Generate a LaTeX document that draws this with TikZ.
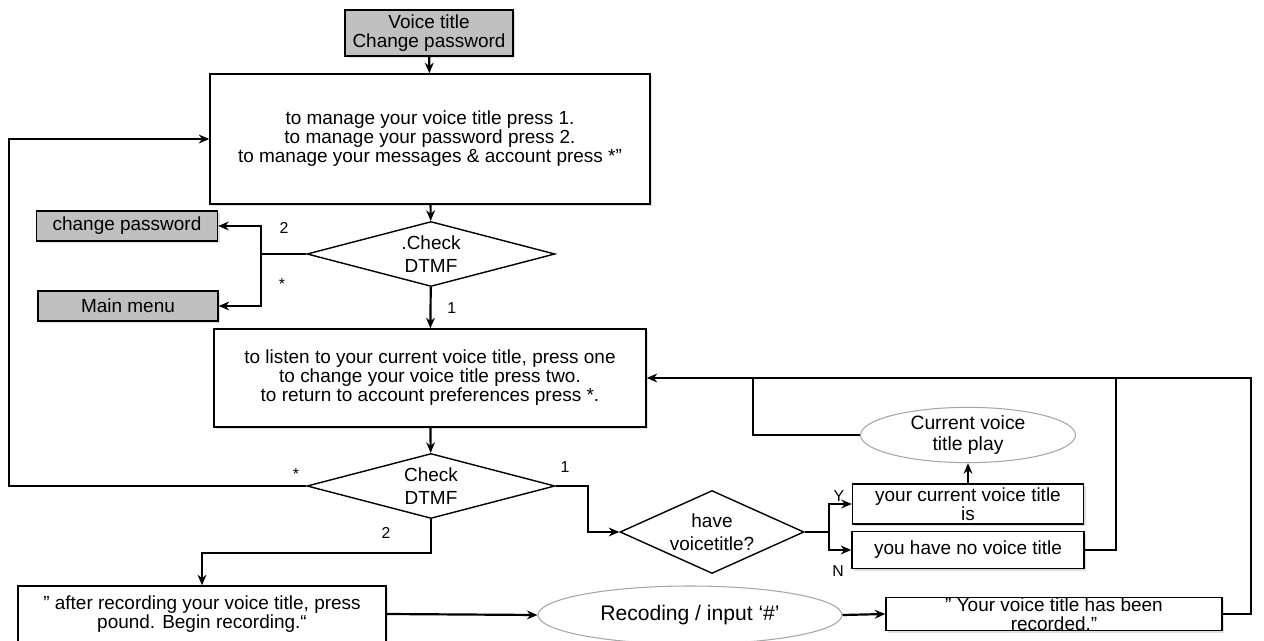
\documentclass[tikz,border=0pt]{standalone}
\usepackage{fontspec}
\setmainfont{Liberation Sans}
\usetikzlibrary{arrows.meta, positioning, shapes.geometric, shadows}
\definecolor{boxgray}{HTML}{C0C0C0}
\definecolor{ellgray}{HTML}{A6A6A6}

\begin{document}
\begin{tikzpicture}[x=0.02cm, y=-0.02cm, >={Stealth[length=6pt, width=5pt]},
  box/.style={rectangle, draw, fill=white, line width=0.8pt, inner sep=0pt, align=center, font=\fontsize{10.8}{10.8}\selectfont, drop shadow={shadow xshift=1.2pt, shadow yshift=-1.2pt, opacity=0.25}},
  graybox/.style={box, fill=boxgray},
  decision/.style={diamond, draw, fill=white, line width=0.8pt, inner sep=0pt, shape aspect=3, align=center, font=\fontsize{10.8}{13}\selectfont},
  play/.style={ellipse, draw=ellgray, fill=white, line width=0.6pt, inner sep=0pt, align=center},
  lbl/.style={inner sep=0pt, font=\fontsize{9}{9}\selectfont},
  flow/.style={->, line width=1.25pt},
  wire/.style={line width=1.25pt}]
\useasboundingbox (0,0) rectangle (1264,641);
% Account preferences menu
\node[graybox, minimum width=3.36cm, minimum height=0.92cm] (vt) at (429,33) {Voice title\\Change password};
\node[box, minimum width=8.8cm, minimum height=2.6cm] (menu1) at (430,139) {to manage your voice title press 1.\\to manage your password press 2.\\to manage your messages \& account press *”};
\node[decision, minimum width=4.96cm, minimum height=1.3cm] (chk1) at (431,254) {.Check\\DTMF};
\node[graybox, minimum width=3.62cm, minimum height=0.6cm] (cpw) at (127,226) {change password};
\node[graybox, minimum width=3.6cm, minimum height=0.6cm] (mmenu) at (128,306) {Main menu};
\coordinate (jn1) at (261,254);
\draw[flow] (vt) -- (menu1);
\draw[flow] (menu1) -- (chk1);
\draw[wire] (chk1.west) -- (jn1);
\draw[flow] (jn1) |- (cpw.east);
\draw[flow] (jn1) |- (mmenu.east);
\node[lbl] (l2a) at (284,228) {2};
\node[lbl] (lsa) at (282,284) {*};
% Voice title menu
\node[box, minimum width=8.64cm, minimum height=1.96cm] (menu2) at (430,378) {to listen to your current voice title, press one\\to change your voice title press two.\\to return to account preferences press *.};
\node[decision, minimum width=4.96cm, minimum height=1.3cm] (chk2) at (431,486) {Check\\DTMF};
\draw[flow] (chk1) -- node[lbl, right=9pt] (l1a) {1} (menu2);
\draw[flow] (menu2) -- (chk2);
\coordinate (lrail) at (9,486);
\draw[flow] (chk2.west) -- (lrail) |- (menu1.west);
\node[lbl] (lsb) at (296,474) {*};
\node[lbl] (l1b) at (565,467) {1};
\node[lbl] (l2b) at (386,533) {2};
% Play branch
\node[decision, minimum width=3.68cm, minimum height=1.66cm, shape aspect=2.2] (have) at (712,532) {have\\voicetitle?};
\node[box, minimum width=4.62cm, minimum height=0.8cm] (yesb) at (968,504) {your current voice title\\is};
\node[box, minimum width=4.64cm, minimum height=0.74cm] (nob) at (968,550) {you have no voice title};
\node[play, minimum width=4.3cm, minimum height=0.92cm, font=\fontsize{11}{12}\selectfont] (cvp) at (968,435) {Current voice\\title play};
\coordinate (jn2) at (588,486);
\coordinate (yn) at (829,532);
\draw[flow] (chk2.east) -- (jn2) |- (have.west);
\draw[wire] (have.east) -- (yn);
\draw[flow] (yn) |- (yesb.west);
\draw[flow] (yn) |- (nob.west);
\node[lbl] (ly) at (839,496) {Y};
\node[lbl] (ln) at (838,571) {N};
\draw[flow] (yesb) -- (cvp);
% Record branch
\node[box, minimum width=7.36cm, minimum height=1.12cm] (rec) at (202,614) {” after recording your voice title, press\\pound. Begin recording.“};
\node[play, minimum width=6.08cm, minimum height=1.16cm, font=\fontsize{12}{12}\selectfont] (rcell) at (690,615) {Recoding / input ‘\#’};
\node[box, minimum width=6.72cm, minimum height=0.66cm] (rcd) at (1054,614) {};
\node[inner sep=0pt, align=center, font=\fontsize{10.8}{10.8}\selectfont] (rcdtxt) at (1054,614) {” Your voice title has been\\recorded.”};
\draw[flow] (chk2.south) -- ++(0,34) -| (rec.north);
\draw[flow] (rec.east) -- (rcell.west);
\draw[flow] (rcell.east) -- (rcd.west);
% Return to voice title menu
\coordinate (rrail) at (1251,614);
\coordinate (jn3) at (753,378);
\coordinate (jn4) at (1116,378);
\draw[flow] (rcd.east) -- (rrail) |- (menu2.east);
\draw[wire] (cvp.west) -| (jn3);
\draw[wire] (nob.east) -| (jn4);
\end{tikzpicture}
\end{document}
